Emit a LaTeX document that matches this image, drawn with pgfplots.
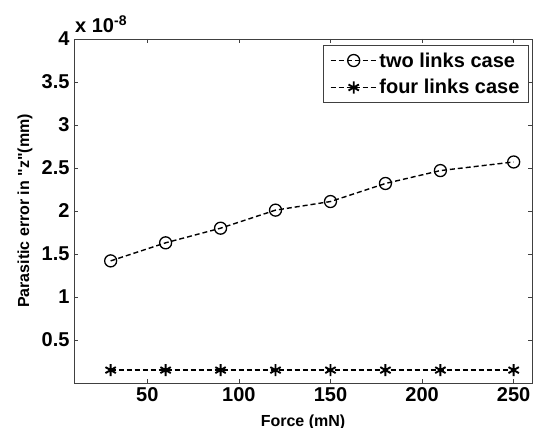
\documentclass[border=0pt]{standalone}
\usepackage{fontspec}
\setmainfont{Liberation Sans}
\usepackage{pgfplots}
\pgfplotsset{compat=1.18}
\begin{document}
\begin{tikzpicture}
\begin{axis}[
  scale only axis,
  width=458bp, height=344bp,
  xmin=10, xmax=260, ymin=0, ymax=4,
  xtick={50,100,150,200,250},
  ytick={0.5,1,1.5,2,2.5,3,3.5,4},
  yticklabels={0.5,1,1.5,2,2.5,3,3.5,4},
  tick align=inside,
  major tick length=4bp,
  tick style={black!75, line width=0.6bp},
  axis line style={black!75, line width=0.8bp},
  /pgf/number format/assume math mode=true,
  ticklabel style={font=\fontsize{20bp}{22bp}\selectfont\bfseries},
  xticklabel style={yshift=-1bp},
  yticklabel style={xshift=-1bp},
  xlabel={Force (mN)},
  ylabel={Parasitic error in \textquotedbl z\textquotedbl(mm)},
  label style={font=\fontsize{16bp}{18bp}\selectfont\bfseries},
  xlabel style={at={(rel axis cs:0.5,0)}, anchor=north, yshift=-28bp},
  ylabel style={at={(rel axis cs:0,0.5)}, anchor=south, yshift=38bp},
  legend style={at={(rel axis cs:0.993,0.982)}, anchor=north east,
    font=\fontsize{20bp}{24bp}\selectfont\bfseries, draw=black!75, line width=0.7bp,
    inner xsep=7bp, inner ysep=5bp, row sep=7bp, cells={anchor=west}},
  legend image code/.code={\draw[#1, mark repeat=2, mark phase=2] plot coordinates {(0bp,0bp) (23bp,0bp) (46bp,0bp)};},
  every axis plot/.append style={black, line width=1.4bp, dash pattern=on 5bp off 3bp},
  clip=false,
]
\addplot[mark=o, mark size=6bp, mark options={solid, line width=1.3bp}] coordinates {
  (30,1.42) (60,1.63) (90,1.80) (120,2.01) (150,2.11) (180,2.32) (210,2.47) (250,2.57)
};
\addlegendentry{two links case}
\addplot[mark=asterisk, mark size=6bp, mark options={solid, line width=1.9bp}] coordinates {
  (30,0.15) (60,0.15) (90,0.15) (120,0.15) (150,0.15) (180,0.15) (210,0.15) (250,0.15)
};
\addlegendentry{four links case}
\node[anchor=base west, inner sep=0pt, font=\fontsize{20bp}{22bp}\selectfont\bfseries] at ([xshift=1bp,yshift=6bp]current axis.north west |- {rel axis cs:0,1}) {x 10\textsuperscript{-8}};
\end{axis}
\pgfresetboundingbox
\path ([shift={(-74bp,-45bp)}]current axis.south west) rectangle ([shift={(5bp,39bp)}]current axis.north east);
\end{tikzpicture}
\end{document}
